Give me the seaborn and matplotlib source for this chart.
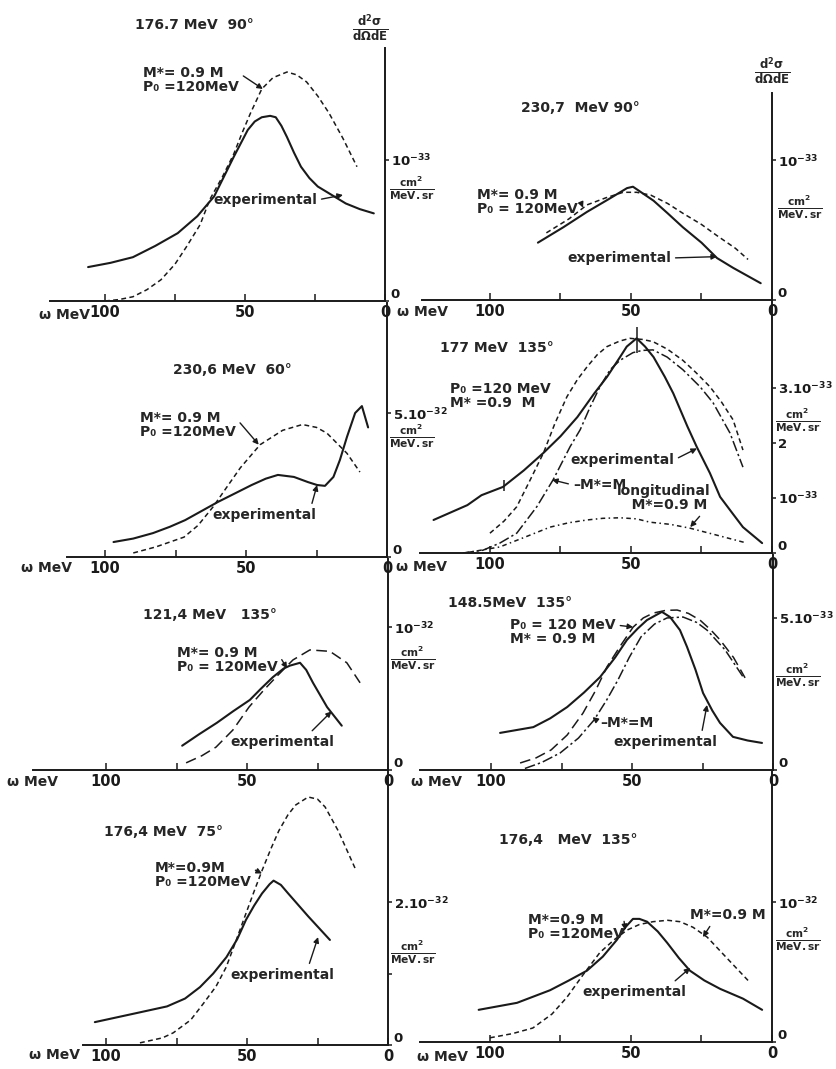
"""
Inclusive cross sections d2sigma/dOmega dE vs energy loss omega - 8 panels
"""

import matplotlib
matplotlib.use("Agg")
import matplotlib.pyplot as plt
import seaborn as sns

W, H = 836, 1069

# ── Data (omega in MeV, cross section in units of the panel's tick) ──

# 176.7 MeV 90 deg  (units 1e-33)
p1_exp_w = [106, 98, 90, 82, 74, 67, 61, 54, 49, 46.5, 44, 41, 39, 37, 35, 32.5, 30, 27, 24, 19, 14, 9, 4]
p1_exp_v = [0.24, 0.27, 0.31, 0.39, 0.48, 0.60, 0.74, 1.02, 1.21, 1.27, 1.30, 1.31, 1.30, 1.24, 1.16, 1.05, 0.95, 0.87, 0.81, 0.75, 0.69, 0.65, 0.62]
p1_th_w = [100, 95, 90, 85, 80, 75, 71, 66, 62.5, 58, 54, 51, 48, 44, 40, 35, 31.5, 28, 24, 20, 15, 10]
p1_th_v = [0.0, 0.01, 0.03, 0.08, 0.15, 0.26, 0.38, 0.54, 0.72, 0.88, 1.04, 1.19, 1.33, 1.50, 1.58, 1.62, 1.60, 1.55, 1.45, 1.33, 1.15, 0.95]

# 230.7 MeV 90 deg  (units 1e-33)
p2_exp_w = [83, 74, 65.6, 58, 51.4, 49.3, 42, 37, 31.6, 25, 19.5, 13.8, 4]
p2_exp_v = [0.41, 0.52, 0.63, 0.72, 0.80, 0.81, 0.71, 0.62, 0.52, 0.41, 0.30, 0.23, 0.12]
p2_th_w = [80, 72, 65.6, 59, 52.8, 48, 43, 37, 31.6, 25, 19.5, 13, 8.5]
p2_th_v = [0.48, 0.58, 0.68, 0.73, 0.77, 0.77, 0.75, 0.69, 0.62, 0.54, 0.46, 0.37, 0.29]

# 230.6 MeV 60 deg  (units 1e-32)
p3_exp_w = [97, 90, 83, 77, 71.6, 60, 48, 43, 38.7, 33, 28, 24.8, 22, 19, 16.7, 14.2, 11.3, 8.9, 6.7]
p3_exp_v = [0.52, 0.64, 0.83, 1.05, 1.28, 1.91, 2.5, 2.72, 2.85, 2.78, 2.6, 2.5, 2.47, 2.78, 3.37, 4.17, 5.0, 5.24, 4.5]
p3_th_w = [90, 82, 72, 67, 61.7, 57, 52, 45, 37, 30, 25, 21.3, 14.2, 9.6]
p3_th_v = [0.14, 0.35, 0.69, 1.1, 1.74, 2.4, 3.1, 3.9, 4.4, 4.6, 4.5, 4.3, 3.6, 2.95]

# 177 MeV 135 deg  (units 1e-33)
p4_exp_w = [120, 108, 103, 95.4, 88, 81, 75, 69, 63, 58.5, 54, 51.5, 48, 45, 42, 38, 35, 30, 26.7, 22, 18.4, 14, 10.3, 3.5]
p4_exp_v = [0.6, 0.87, 1.05, 1.2, 1.5, 1.82, 2.12, 2.47, 2.9, 3.2, 3.55, 3.75, 3.9, 3.75, 3.56, 3.2, 2.9, 2.3, 1.93, 1.45, 1.02, 0.72, 0.47, 0.18]
p4_th_w = [100, 95, 90.5, 86, 81, 77, 72.7, 69, 65.6, 62, 58.5, 54, 50.4, 46, 42.2, 37, 31.6, 27, 22, 18, 13.8, 10.3]
p4_th_v = [0.36, 0.58, 0.84, 1.3, 1.82, 2.35, 2.84, 3.15, 3.38, 3.6, 3.75, 3.85, 3.9, 3.88, 3.84, 3.7, 3.5, 3.28, 3.02, 2.75, 2.42, 1.87]
p4_mm_w = [109.6, 102.5, 96.5, 90.5, 83.4, 77.6, 71.6, 68, 64.5, 61, 57.4, 53.9, 49.3, 46, 42.2, 37.2, 31.6, 25.5, 20.9, 14.9, 10.3]
p4_mm_v = [0, 0.05, 0.18, 0.36, 0.84, 1.33, 1.93, 2.24, 2.65, 3.02, 3.33, 3.5, 3.64, 3.68, 3.69, 3.56, 3.33, 3.02, 2.73, 2.18, 1.56]
p4_lo_w = [109, 96.5, 88, 78.7, 72, 65.6, 60, 53.9, 48, 43.3, 36, 29, 20, 8.9]
p4_lo_v = [0, 0.11, 0.28, 0.47, 0.55, 0.6, 0.63, 0.64, 0.62, 0.56, 0.52, 0.45, 0.33, 0.18]
p4_err_w = [95, 48]
p4_err_v = [1.22, 3.87]
p4_err_e = [0.1, 0.23]

# 121.4 MeV 135 deg  (units 1e-32)
p5_exp_w = [73, 67, 60.7, 55, 49, 45, 40.8, 37, 34.8, 31.2, 29, 26.6, 21.6, 16.4]
p5_exp_v = [0.17, 0.25, 0.33, 0.41, 0.49, 0.57, 0.65, 0.71, 0.73, 0.75, 0.70, 0.61, 0.44, 0.31]
p5_th_w = [71.6, 66, 61, 55, 49.3, 44, 39.7, 33.7, 27.7, 20.6, 14.6, 9.9]
p5_th_v = [0.05, 0.1, 0.16, 0.28, 0.44, 0.56, 0.65, 0.77, 0.84, 0.83, 0.75, 0.61]

# 148.5 MeV 135 deg  (units 1e-33)
p6_exp_w = [96.8, 85, 79, 73, 67, 61.3, 56, 51.8, 48, 44.7, 39.4, 36.5, 33, 30.5, 27.5, 24.8, 21.5, 18.8, 14.2, 9, 3.9]
p6_exp_v = [1.22, 1.41, 1.7, 2.07, 2.55, 3.06, 3.7, 4.28, 4.65, 4.93, 5.2, 5.03, 4.6, 4.05, 3.3, 2.53, 1.95, 1.55, 1.09, 0.97, 0.89]
p6_th_w = [89.7, 84, 78.7, 73, 67.4, 63, 58.9, 54, 49.6, 46, 42.5, 38, 34, 30, 25.9, 22, 18.8, 14, 9.9]
p6_th_v = [0.23, 0.4, 0.66, 1.15, 1.87, 2.6, 3.39, 4.1, 4.7, 5.0, 5.16, 5.25, 5.26, 5.15, 4.93, 4.6, 4.28, 3.7, 3.03]
p6_mm_w = [88, 82, 75.5, 69, 63.5, 59, 55, 51, 46.8, 42, 37.6, 31.9, 27, 23.4, 17, 10.6]
p6_mm_v = [0.05, 0.25, 0.56, 1.05, 1.64, 2.3, 2.96, 3.7, 4.38, 4.8, 5.0, 5.03, 4.85, 4.6, 3.95, 3.06]

# 176.4 MeV 75 deg  (units 1e-32)
p7_exp_w = [104, 90, 78.4, 72, 66.7, 62, 57.3, 53.5, 50.4, 47.5, 44.7, 42, 40.6, 38, 35.4, 28.3, 20.6]
p7_exp_v = [0.32, 0.44, 0.54, 0.65, 0.81, 1.0, 1.23, 1.48, 1.75, 1.95, 2.12, 2.25, 2.3, 2.24, 2.12, 1.8, 1.47]
p7_th_w = [88, 80, 76.2, 70, 65.5, 61, 57.4, 54, 50.4, 47.5, 44.7, 41.5, 38.7, 35.5, 32.7, 28.3, 25, 22.3, 17.7, 11.3]
p7_th_v = [0.03, 0.1, 0.17, 0.35, 0.58, 0.82, 1.09, 1.45, 1.84, 2.15, 2.44, 2.75, 3.0, 3.22, 3.36, 3.47, 3.44, 3.33, 3.0, 2.44]

# 176.4 MeV 135 deg  (units 1e-32)
p8_exp_w = [104, 90.4, 78.7, 72, 65.6, 60, 55, 52, 49.3, 47, 44.3, 40.5, 37.2, 33, 29.1, 24, 18.4, 10.3, 3.5]
p8_exp_v = [0.23, 0.28, 0.37, 0.44, 0.51, 0.61, 0.73, 0.82, 0.88, 0.88, 0.86, 0.79, 0.71, 0.6, 0.51, 0.44, 0.38, 0.31, 0.23]
p8_th_w = [100, 92, 84.8, 78, 72.7, 67, 61, 56, 51.4, 47, 42.2, 37, 32.6, 28, 23, 16, 8.5]
p8_th_v = [0.03, 0.06, 0.1, 0.2, 0.32, 0.48, 0.64, 0.73, 0.8, 0.84, 0.86, 0.87, 0.86, 0.82, 0.75, 0.6, 0.44]

X_TICKS = [100, 75, 50, 25, 0]
X_LABELS = ["100", "", "50", "", "0"]

# ── Styles ────────────────────────────────────────────────────────────

SOLID = "-"
SHORT = (0, (3.2, 2.2))
LONG = (0, (7, 3.5))
DASHDOT = (0, (7, 2, 1.5, 2))
LONGIT = (0, (3, 2.2, 1, 2.2))

M09 = "M*= 0.9 M\nP\u2080 =120MeV"
FRAC = r"$\frac{cm^2}{MeV.sr}$"
DSIG = r"$\frac{d^2\sigma}{d\Omega dE}$"

# rect = (left, top, right, bottom) in image pixels; vertical axes run on
# continuously from one row to the next as in the original figure
PANELS = [
    dict(rect=(50, 48, 385, 301), xmax=119.6, ytop=1.79,
         yt=[0, 1], yl=["0", "$10^{-33}$"],
         curves=[(p1_exp_w, p1_exp_v, SOLID, 1.5), (p1_th_w, p1_th_v, SHORT, 1.1)],
         title=("176.7 MeV  90°", 194, 25), frac=(389, 188), dsig=(370, 28), omega=(90, 315),
         notes=[(M09, 143, 80, (43.6, 1.50), (1, 0.75)),
                ("experimental", 213, 200, (15, 0.75), (1, 0.5))]),
    dict(rect=(422, 93, 772, 300), xmax=124.1, ytop=1.48,
         yt=[0, 1], yl=["0", "$10^{-33}$"],
         curves=[(p2_exp_w, p2_exp_v, SOLID, 1.5), (p2_th_w, p2_th_v, SHORT, 1.1)],
         title=("230,7  MeV 90°", 580, 108), frac=(777, 207), dsig=(772, 71), omega=(448, 312),
         notes=[("M*= 0.9 M\nP\u2080 = 120MeV", 477, 202, (67, 0.66), (1, 0.75)),
                ("experimental", 567, 258, (19.5, 0.31), (1, 0.5))]),
    dict(rect=(67, 303, 387, 557), xmax=113.5, ytop=8.82,
         yt=[0, 5], yl=["0", "5.10$^{-32}$"],
         curves=[(p3_exp_w, p3_exp_v, SOLID, 1.5), (p3_th_w, p3_th_v, SHORT, 1.1)],
         title=("230,6 MeV  60°", 232, 370), frac=(389, 436), dsig=None, omega=(72, 568),
         notes=[(M09, 140, 425, (45.5, 3.9), (1, 0.75)),
                ("experimental", 212, 515, (24.8, 2.5), (0.95, 1))]),
    dict(rect=(420, 302, 772, 553), xmax=124.8, ytop=4.56,
         yt=[0, 1, 2, 3], yl=["0", "$10^{-33}$", "2", "3.10$^{-33}$"],
         curves=[(p4_exp_w, p4_exp_v, SOLID, 1.5), (p4_th_w, p4_th_v, SHORT, 1.1),
                 (p4_mm_w, p4_mm_v, DASHDOT, 1.1), (p4_lo_w, p4_lo_v, LONGIT, 1.1)],
         title=("177 MeV  135°", 497, 348), frac=(775, 420), dsig=None, omega=(447, 567),
         notes=[("P\u2080 =120 MeV\nM* =0.9  M", 450, 396, None, None),
                ("experimental", 570, 460, (26.6, 1.9), (1, 0.5)),
                ("\u2013M*=M", 573, 485, (78, 1.33), (0, 0.5)),
                ("longitudinal\n   M*=0.9 M", 617, 498, (29, 0.47), (1, 0.3))]),
    dict(rect=(33, 559, 388, 770), xmax=125.9, ytop=1.476,
         yt=[0, 1], yl=["0", "$10^{-32}$"],
         curves=[(p5_exp_w, p5_exp_v, SOLID, 1.5), (p5_th_w, p5_th_v, LONG, 1.1)],
         title=("121,4 MeV   135°", 210, 615), frac=(390, 658), dsig=None, omega=(58, 782),
         notes=[("M*= 0.9 M\nP\u2080 = 120MeV", 177, 660, (35.8, 0.71), (1, 0.75)),
                ("experimental", 230, 742, (20, 0.41), (0.75, 1))]),
    dict(rect=(420, 555, 773, 770), xmax=125.2, ytop=7.07,
         yt=[0, 5], yl=["0", "5.10$^{-33}$"],
         curves=[(p6_exp_w, p6_exp_v, SOLID, 1.5), (p6_th_w, p6_th_v, LONG, 1.1),
                 (p6_mm_w, p6_mm_v, DASHDOT, 1.1)],
         title=("148.5MeV  135°", 510, 603), frac=(775, 675), dsig=None, omega=(462, 782),
         notes=[("P\u2080 = 120 MeV\nM* = 0.9 M", 510, 632, (49.6, 4.7), (1, 0.75)),
                ("\u2013M*=M", 600, 723, (64, 1.74), (0, 0.5)),
                ("experimental", 613, 742, (23.4, 2.14), (0.85, 1))]),
    dict(rect=(83, 772, 388, 1045), xmax=108.2, ytop=3.82,
         yt=[0, 1, 2], yl=["0", "", "2.10$^{-32}$"],
         curves=[(p7_exp_w, p7_exp_v, SOLID, 1.5), (p7_th_w, p7_th_v, SHORT, 1.1)],
         title=("176,4 MeV  75°", 164, 832), frac=(390, 952), dsig=None, omega=(80, 1055),
         notes=[("M*=0.9M\nP\u2080 =120MeV", 155, 875, (44.7, 2.4), (1, 0.75)),
                ("experimental", 230, 975, (24.8, 1.51), (0.75, 1))]),
    dict(rect=(420, 772, 772, 1042), xmax=124.8, ytop=1.93,
         yt=[0, 1], yl=["0", "$10^{-32}$"],
         curves=[(p8_exp_w, p8_exp_v, SOLID, 1.5), (p8_th_w, p8_th_v, SHORT, 1.1)],
         title=("176,4   MeV  135°", 568, 840), frac=(775, 939), dsig=None, omega=(468, 1057),
         notes=[("M*=0.9 M\nP\u2080 =120MeV", 528, 927, (52, 0.80), (1, 0.75)),
                ("M*=0.9 M", 690, 915, (24.5, 0.75), (0.3, 0)),
                ("experimental", 582, 992, (29, 0.53), (0.85, 1))]),
]


def ftext(x, y, s, **kw):
    """Place text at image pixel coords (origin top-left)."""
    fig.text(x / W, 1 - y / H, s, **kw)


def draw_panel(spec):
    L, T, R, B = spec["rect"]
    ax = fig.add_axes([L / W, 1 - B / H, (R - L) / W, (B - T) / H])
    ax.set_facecolor("none")

    for w, v, ls, lw in spec["curves"]:
        sns.lineplot(x=w, y=v, ax=ax, color="k", lw=lw, linestyle=ls,
                     sort=False, estimator=None)

    if spec is PANELS[3]:
        ax.errorbar(p4_err_w, p4_err_v, yerr=p4_err_e, fmt="none",
                    ecolor="k", elinewidth=1.1, capsize=0)

    ax.set_xlim(spec["xmax"], 0)
    ax.set_ylim(0, spec["ytop"])
    ax.set_xlabel(""); ax.set_ylabel("")

    for side in ("left", "top"):
        ax.spines[side].set_visible(False)
    for side in ("bottom", "right"):
        ax.spines[side].set_linewidth(1.4)
        ax.spines[side].set_color("k")

    ax.set_xticks(X_TICKS)
    ax.set_xticklabels(X_LABELS)
    ax.tick_params(axis="x", direction="in", length=5, width=1.1, pad=3,
                   labelsize=10.5, colors="k", bottom=True)
    ax.yaxis.tick_right()
    ax.set_yticks(spec["yt"])
    ax.set_yticklabels(spec["yl"])
    ax.tick_params(axis="y", direction="out", length=3, width=1.1, pad=1,
                   labelsize=9.5, colors="k", right=True, left=False)
    ax.get_yticklabels()[0].set_va("bottom")
    for lab in ax.get_xticklabels() + ax.get_yticklabels():
        lab.set_fontweight("bold")

    txt, tx, ty = spec["title"]
    ftext(tx, ty, txt, ha="center", va="center", fontsize=10, fontweight="bold")
    ftext(spec["frac"][0], spec["frac"][1], FRAC, ha="left", va="center", fontsize=11)
    if spec["dsig"]:
        ftext(spec["dsig"][0], spec["dsig"][1], DSIG, ha="center", va="center", fontsize=12)
    ftext(spec["omega"][0], spec["omega"][1], "\u03c9 MeV", ha="right", va="center",
          fontsize=10, fontweight="bold")

    for s, px, py, target, rel in spec["notes"]:
        if target is None:
            ftext(px, py, s, ha="left", va="center", fontsize=10,
                  fontweight="bold", linespacing=1.0)
            continue
        ax.annotate(s, xy=target, xycoords="data",
                    xytext=(px, H - py), textcoords="figure pixels",
                    ha="left", va="center", fontsize=10, fontweight="bold",
                    linespacing=1.0, annotation_clip=False,
                    arrowprops=dict(arrowstyle="-|>", color="k", lw=1.0,
                                    mutation_scale=8, shrinkA=1, shrinkB=0,
                                    relpos=rel))
    return ax


sns.set_theme(style="white")
plt.rcParams["font.family"] = ["DejaVu Sans"]
plt.rcParams["mathtext.fontset"] = "dejavusans"
plt.rcParams["mathtext.default"] = "bf"

fig = plt.figure(figsize=(W / 100, H / 100), dpi=100)
fig.patch.set_facecolor("white")

for spec in PANELS:
    draw_panel(spec)

fig.savefig("out.png", dpi=100)
plt.close(fig)
